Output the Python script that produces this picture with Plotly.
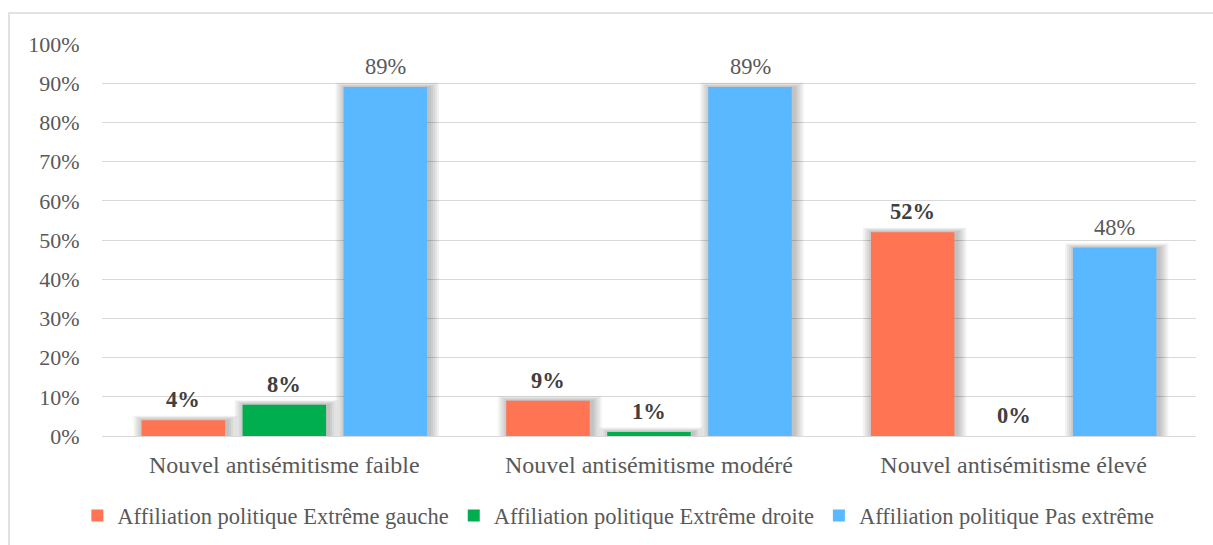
import plotly.graph_objects as go

categories = ["Nouvel antisémitisme faible", "Nouvel antisémitisme modéré", "Nouvel antisémitisme élevé"]
series_names = [
    "Affiliation politique Extrême gauche",
    "Affiliation politique Extrême droite",
    "Affiliation politique Pas extrême",
]
extreme_gauche = [4, 9, 52]
extreme_droite = [8, 1, 0]
pas_extreme = [89, 89, 48]

colors = ["#FF7452", "#00AE4F", "#59B8FF"]
label_bold = [True, True, False]

TEXT = "#595959"
GRID = "#D9D9D9"
FONT = "Liberation Serif"

W, H = 1213, 545
M = dict(l=102, r=17, t=44, b=109, autoexpand=False)
plot_w = W - M["l"] - M["r"]
plot_h = H - M["t"] - M["b"]
px_x = len(categories) / plot_w      # category units per pixel
px_y = 1.0 / plot_h                  # y units per pixel

BAR_W = 0.229
OFFSETS = [-0.3915, -0.1145, 0.1625]

fig = go.Figure()

# soft drop shadow behind each bar (stacked translucent layers)
for vals, off in zip([extreme_gauche, extreme_droite, pas_extreme], OFFSETS):
    ys = [v / 100 for v in vals]
    for k in range(1, 6):
        grow = 2 * k
        fig.add_trace(go.Bar(
            x=categories,
            y=[y + grow * 0.45 * px_y if y > 0 else 0 for y in ys],
            offset=off - grow * px_x + 2 * px_x,
            width=BAR_W + 2 * grow * px_x,
            marker=dict(color="rgba(0,0,0,0.05)", line=dict(width=0)),
            hoverinfo="skip",
            showlegend=False,
        ))

annotations = []
for name, vals, col, bold, off in zip(series_names, [extreme_gauche, extreme_droite, pas_extreme],
                                       colors, label_bold, OFFSETS):
    fig.add_trace(go.Bar(
        name=name,
        x=categories,
        y=[v / 100 for v in vals],
        offset=off,
        width=BAR_W,
        marker=dict(color=col, line=dict(width=0)),
    ))
    # value labels above each bar
    for i, v in enumerate(vals):
        annotations.append(dict(
            x=i + off + BAR_W / 2, y=v / 100,
            xref="x", yref="y",
            text=f"<b>{v}%</b>" if bold else f"{v}%",
            showarrow=False,
            yanchor="bottom",
            yshift=6,
            font=dict(family=FONT, size=22.5, color="#404040" if bold else TEXT),
        ))

fig.update_layout(
    width=W,
    height=H,
    paper_bgcolor="white",
    plot_bgcolor="white",
    barmode="overlay",
    margin=M,
    font=dict(family=FONT, size=22, color=TEXT),
    showlegend=True,
    legend=dict(
        orientation="h",
        x=0.472, xanchor="center",
        y=-0.204, yanchor="middle",
        font=dict(family=FONT, size=22.5, color=TEXT),
        itemwidth=30,
        tracegroupgap=0,
    ),
    xaxis=dict(
        range=[-0.5, 2.5],
        automargin=False,
        showgrid=False,
        showline=True,
        linecolor=GRID,
        linewidth=1,
        ticks="outside",
        ticklen=7,
        tickcolor="rgba(0,0,0,0)",
        tickfont=dict(family=FONT, size=24, color=TEXT),
    ),
    yaxis=dict(
        range=[0, 1],
        automargin=False,
        dtick=0.1,
        tickformat=".0%",
        showgrid=True,
        gridcolor=GRID,
        gridwidth=1,
        zeroline=False,
        showline=False,
        ticks="outside",
        ticklen=17,
        tickcolor="rgba(0,0,0,0)",
        tickfont=dict(family=FONT, size=22, color=TEXT),
    ),
    annotations=annotations,
    shapes=[dict(
        type="rect", xref="paper", yref="paper",
        x0=-0.085, x1=1.05, y0=-0.4, y1=1.079,
        line=dict(color=GRID, width=1.5),
        fillcolor="rgba(0,0,0,0)",
        layer="below",
    )],
)

fig.write_html("out.html")
